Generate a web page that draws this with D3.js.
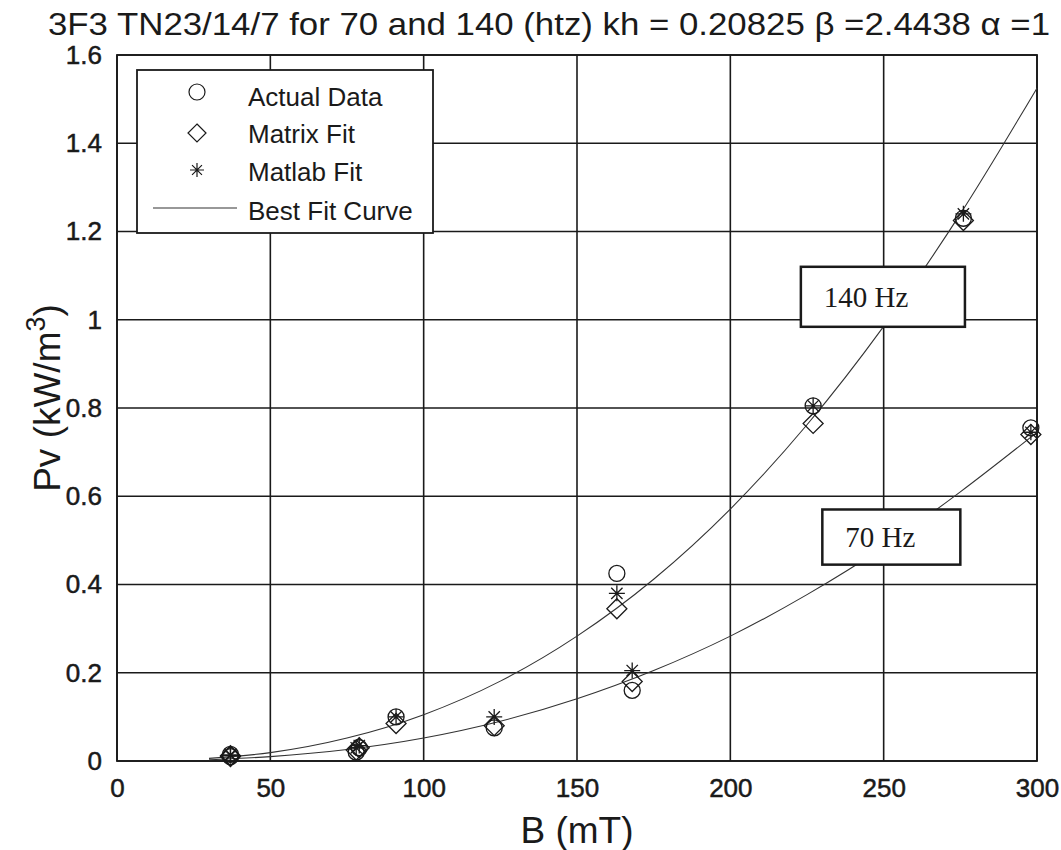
<!DOCTYPE html>
<html>
<head>
<meta charset="utf-8">
<script src="https://cdn.jsdelivr.net/npm/d3@7"></script>
<style>
  html, body { margin: 0; padding: 0; background: #fff; }
  svg { display: block; }
</style>
</head>
<body>
<svg id="chart" width="1061" height="850"></svg>
<script>
// Core loss Pv vs flux density B for 3F3 ferrite at two frequencies
const xTicks = [0, 50, 100, 150, 200, 250, 300];
const yTicks = [0, 0.2, 0.4, 0.6, 0.8, 1, 1.2, 1.4, 1.6];

// 140 Hz measurements and fits
const b140 = [37, 79, 91, 163, 227, 276];
const actual140 = [0.015, 0.03, 0.1, 0.425, 0.805, 1.23];
const matrix140 = [0.012, 0.03, 0.085, 0.345, 0.765, 1.225];
const matlab140 = [0.014, 0.035, 0.1, 0.38, 0.805, 1.24];

// 70 Hz measurements and fits
const b70 = [37, 78, 123, 168, 298];
const actual70 = [0.01, 0.02, 0.075, 0.16, 0.755];
const matrix70 = [0.01, 0.025, 0.08, 0.18, 0.74];
const matlab70 = [0.012, 0.03, 0.1, 0.205, 0.745];

// Best fit curves sampled along B
const curveB = [30, 50, 75, 100, 125, 150, 175, 200, 225, 250, 275, 300];
const curve140 = [0.006, 0.019, 0.052, 0.105, 0.181, 0.283, 0.412, 0.571, 0.762, 0.985, 1.24, 1.525];
const curve70 = [0.003, 0.01, 0.026, 0.052, 0.09, 0.141, 0.205, 0.283, 0.377, 0.485, 0.61, 0.745];

const legendItems = ["Actual Data", "Matrix Fit", "Matlab Fit", "Best Fit Curve"];

const svg = d3.select("#chart");
const plotL = 117, plotR = 1037, plotT = 55, plotB = 761;

const x = d3.scaleLinear().domain([0, 300]).range([plotL, plotR]);
const y = d3.scaleLinear().domain([0, 1.6]).range([plotB, plotT]);

const ink = "#1a1a1a";
const sans = "Arial, 'Liberation Sans', sans-serif";

// Title
svg.append("text")
  .attr("x", 549).attr("y", 35)
  .attr("text-anchor", "middle")
  .attr("font-family", sans)
  .attr("font-size", 32)
  .attr("fill", ink)
  .attr("textLength", 1002)
  .attr("lengthAdjust", "spacingAndGlyphs")
  .text("3F3 TN23/14/7 for 70 and 140 (htz) kh = 0.20825 \u03B2 =2.4438 \u03B1 =1");

// Grid
const grid = svg.append("g").attr("stroke", ink).attr("stroke-width", 1.6);
grid.selectAll("line.v").data(xTicks).join("line")
  .attr("x1", d => x(d)).attr("x2", d => x(d))
  .attr("y1", plotT).attr("y2", plotB);
grid.selectAll("line.h").data(yTicks).join("line")
  .attr("x1", plotL).attr("x2", plotR)
  .attr("y1", d => y(d)).attr("y2", d => y(d));

// Axes (tick labels only; grid lines serve as ticks)
const xAxis = d3.axisBottom(x).tickValues(xTicks).tickSize(0).tickPadding(18)
  .tickFormat(d3.format("d"));
const gx = svg.append("g").attr("transform", `translate(0,${plotB})`).call(xAxis);
gx.select(".domain").remove();
gx.selectAll("text").attr("font-family", sans).attr("font-size", 26).attr("fill", ink)
  .attr("stroke", ink).attr("stroke-width", 0.5);

const yAxis = d3.axisLeft(y).tickValues(yTicks).tickSize(0).tickPadding(15)
  .tickFormat(d => d === 0 || d === 1 ? String(d) : d3.format(".1f")(d));
const gy = svg.append("g").attr("transform", `translate(${plotL},0)`).call(yAxis);
gy.select(".domain").remove();
gy.selectAll("text").attr("font-family", sans).attr("font-size", 26).attr("fill", ink)
  .attr("stroke", ink).attr("stroke-width", 0.5);

// Plot frame
svg.append("rect")
  .attr("x", plotL).attr("y", plotT)
  .attr("width", plotR - plotL).attr("height", plotB - plotT)
  .attr("fill", "none").attr("stroke", ink).attr("stroke-width", 1.8);

// Axis titles
svg.append("text")
  .attr("x", x(150)).attr("y", 843)
  .attr("text-anchor", "middle")
  .attr("font-family", sans).attr("font-size", 37).attr("fill", ink)
  .text("B (mT)");

const yl = svg.append("text")
  .attr("transform", `translate(60,${(plotT + plotB) / 2 - 10}) rotate(-90)`)
  .attr("text-anchor", "middle")
  .attr("font-family", sans).attr("font-size", 37).attr("fill", ink);
yl.append("tspan").text("Pv (kW/m");
yl.append("tspan").attr("baseline-shift", "super").attr("font-size", 27).text("3");
yl.append("tspan").text(")");

// Best fit curves
const line = d3.line().x(d => x(d[0])).y(d => y(d[1])).curve(d3.curveMonotoneX);
[curve140, curve70].forEach(vals => {
  svg.append("path")
    .datum(curveB.map((b, i) => [b, vals[i]]))
    .attr("d", line)
    .attr("fill", "none").attr("stroke", "#333").attr("stroke-width", 1.1);
});

// Marker shapes
const circleSym = d3.symbol().type(d3.symbolCircle).size(Math.PI * 8 * 8);
function diamondPath(s) {
  return `M0,${-s}L${s},0L0,${s}L${-s},0Z`;
}
function starPath(s) {
  const p = [];
  for (let k = 0; k < 4; k++) {
    const a = k * Math.PI / 4;
    const dx = Math.cos(a) * s, dy = Math.sin(a) * s;
    p.push(`M${-dx},${-dy}L${dx},${dy}`);
  }
  return p.join("");
}

function drawMarkers(bs, vals, pathStr) {
  svg.append("g").selectAll("path").data(bs.map((b, i) => [b, vals[i]])).join("path")
    .attr("transform", d => `translate(${x(d[0])},${y(d[1])})`)
    .attr("d", pathStr)
    .attr("fill", "none").attr("stroke", ink).attr("stroke-width", 1.3);
}

drawMarkers(b140, actual140, circleSym());
drawMarkers(b70, actual70, circleSym());
drawMarkers(b140, matrix140, diamondPath(10));
drawMarkers(b70, matrix70, diamondPath(10));
drawMarkers(b140, matlab140, starPath(8));
drawMarkers(b70, matlab70, starPath(8));

// Frequency annotation boxes
function labelBox(x0, x1, y0, y1, txt) {
  const g = svg.append("g");
  g.append("rect")
    .attr("x", x(x0)).attr("y", y(y0))
    .attr("width", x(x1) - x(x0)).attr("height", y(y1) - y(y0))
    .attr("fill", "#fff").attr("stroke", ink).attr("stroke-width", 2.5);
  g.append("text")
    .attr("x", x(x0) + 23).attr("y", (y(y0) + y(y1)) / 2 + 10)
    .attr("font-family", "'Liberation Serif', 'Times New Roman', serif")
    .attr("font-size", 29).attr("fill", ink)
    .text(txt);
}
labelBox(223, 276.5, 1.12, 0.984, "140 Hz");
labelBox(230, 275, 0.57, 0.445, "70 Hz");

// Legend
const lg = svg.append("g");
lg.append("rect")
  .attr("x", 137).attr("y", 70).attr("width", 296).attr("height", 163)
  .attr("fill", "#fff").attr("stroke", ink).attr("stroke-width", 1.8);
const rowY = [106, 143, 181, 220];
const markY = [92, 133, 170, 208];
const legendMarks = [circleSym(), diamondPath(9), starPath(7), null];
legendItems.forEach((name, i) => {
  if (legendMarks[i]) {
    lg.append("path")
      .attr("transform", `translate(197,${markY[i]})`)
      .attr("d", legendMarks[i])
      .attr("fill", "none").attr("stroke", ink).attr("stroke-width", 1.2);
  } else {
    lg.append("line")
      .attr("x1", 153).attr("x2", 237)
      .attr("y1", markY[i]).attr("y2", markY[i])
      .attr("stroke", "#333").attr("stroke-width", 1.1);
  }
  lg.append("text")
    .attr("x", 248).attr("y", rowY[i])
    .attr("font-family", sans).attr("font-size", 26).attr("fill", ink)
    .text(name);
});
</script>
</body>
</html>
